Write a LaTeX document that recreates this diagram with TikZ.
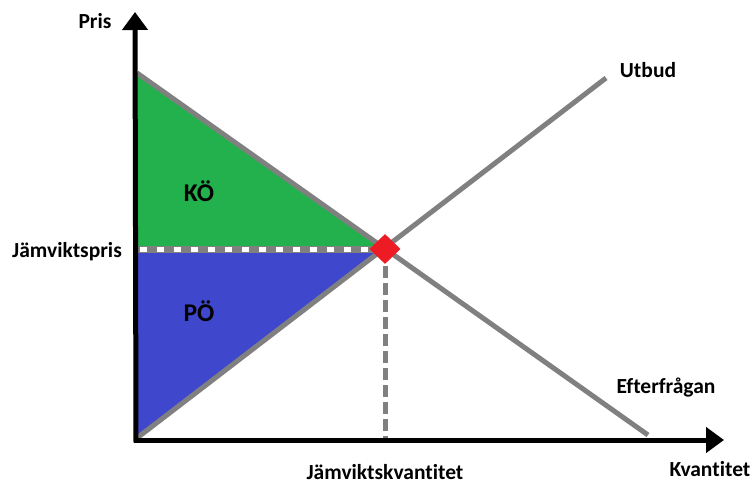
\documentclass[tikz,border=0pt]{standalone}
\usepackage{fontspec}
\setmainfont[Ligatures=NoCommon]{Carlito}
\usepackage{tikz}
\usetikzlibrary{arrows.meta, shapes.geometric}
\definecolor{ksGreen}{HTML}{22B14C}
\definecolor{psBlue}{HTML}{3F48CC}
\definecolor{eqRed}{HTML}{ED1C24}
\definecolor{curveGray}{HTML}{808080}

\tikzset{
    curve/.style={curveGray, line width=5pt},
    axis/.style={black, line width=5pt, -{Triangle[length=18pt, width=25pt]}},
    lbl/.style={font=\bfseries\fontsize{21.5}{24}\selectfont, inner sep=0pt},
    area/.style={font=\bfseries\fontsize{25.5}{28}\selectfont, inner sep=0pt}
}

\begin{document}
\begin{tikzpicture}[x=1pt, y=-1pt]
    \useasboundingbox (0,0) rectangle (752,484);

    % Points
    \coordinate (O) at (136,440);
    \coordinate (Dtop) at (137,73);
    \coordinate (Dend) at (648,435);
    \coordinate (Sbot) at (137,438);
    \coordinate (Send) at (606,78);
    \coordinate (E) at (385,249);
    \coordinate (Pe) at (136,249);
    \coordinate (Qe) at (385,440);

    % Surplus areas
    \fill[ksGreen] (Dtop) -- (E) -- (Pe) -- cycle;
    \fill[psBlue] (Pe) -- (E) -- (Sbot) -- cycle;

    % Curves
    \draw[curve] (Dtop) -- (Dend);
    \draw[curve] (Sbot) -- (Send);

    % Equilibrium lines
    \draw[curveGray, line width=7pt] (Pe) -- (E);
    \draw[white, line width=5pt, dash pattern=on 7pt off 10pt] (140,249) -- (E);
    \draw[curveGray, line width=5pt, dash pattern=on 12pt off 5pt] (E) -- (Qe);

    % Axes
    \draw[axis] (136,442.5) -- (135,12);
    \draw[axis] (133.5,440) -- (724,440);

    % Equilibrium point
    \node[diamond, fill=eqRed, minimum width=31pt, minimum height=30pt, inner sep=0pt] (eq) at (E) {};

    % Labels
    \node[lbl] (pris) at (95,21) {Pris};
    \node[lbl] (utbud) at (648,70) {Utbud};
    \node[lbl] (efter) at (666,388) {Efterfrågan};
    \node[lbl] (kvant) at (710,469) {Kvantitet};
    \node[lbl] (jpris) at (67,252) {Jämviktspris};
    \node[lbl] (jkvant) at (385,472) {Jämviktskvantitet};
    \node[area] (ko) at (199,191) {KÖ};
    \node[area] (po) at (199,311) {PÖ};
\end{tikzpicture}
\end{document}
